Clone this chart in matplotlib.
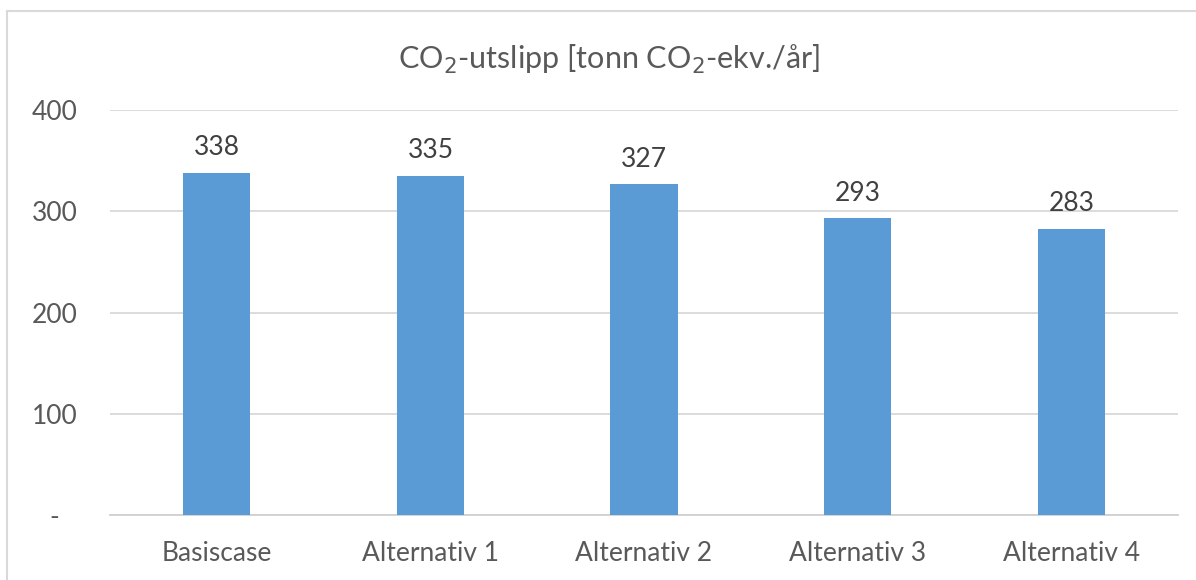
import matplotlib.pyplot as plt
from matplotlib.lines import Line2D

categories = ['Basiscase', 'Alternativ 1', 'Alternativ 2', 'Alternativ 3', 'Alternativ 4']
utslipp = [338, 335, 327, 293, 283]
yticks = [0, 100, 200, 300, 400]
ytick_labels = ['-', '100', '200', '300', '400']

plt.rcParams['font.family'] = ['Lato', 'DejaVu Sans']

fig = plt.figure(figsize=(11.96, 5.8), dpi=100)
ax = fig.add_axes([0.092, 0.112, 0.893, 0.698])

x = range(len(categories))
ax.bar(x, utslipp, width=0.315, color='#5B9BD5', zorder=3)

# value labels over each bar
for i, v in zip(x, utslipp):
    ax.annotate(str(v), (i, v), xytext=(0, 9), textcoords='offset points',
                ha='center', va='bottom', fontsize=19, color='#404040')

ax.set_xlim(-0.5, len(categories) - 0.5)
ax.set_ylim(0, 400)
ax.set_yticks(yticks)
ax.set_yticklabels(ytick_labels)
ax.set_xticks(list(x))
ax.set_xticklabels(categories)
ax.tick_params(axis='both', length=0, labelsize=19, labelcolor='#595959')
ax.tick_params(axis='y', pad=40)
ax.tick_params(axis='x', pad=19)
for lab in ax.get_yticklabels():
    lab.set_horizontalalignment('center')

ax.grid(axis='y', color='#D9D9D9', linewidth=1.3, zorder=0)
for s in ['top', 'right', 'left']:
    ax.spines[s].set_visible(False)
ax.spines['bottom'].set_color('#D0D0D0')
ax.spines['bottom'].set_linewidth(1.3)

fig.text(0.509, 0.897, 'CO$_2$-utslipp [tonn CO$_2$-ekv./år]', ha='center', va='center',
         fontsize=22, color='#595959')

# outer chart frame (top and left edges visible)
fig.add_artist(Line2D([7 / 1196, 7 / 1196], [0, 1 - 11 / 580], transform=fig.transFigure,
                      color='#D9D9D9', linewidth=1.5))
fig.add_artist(Line2D([7 / 1196, 1], [1 - 11 / 580, 1 - 11 / 580], transform=fig.transFigure,
                      color='#D9D9D9', linewidth=1.5))

fig.savefig('out.png', dpi=100)
